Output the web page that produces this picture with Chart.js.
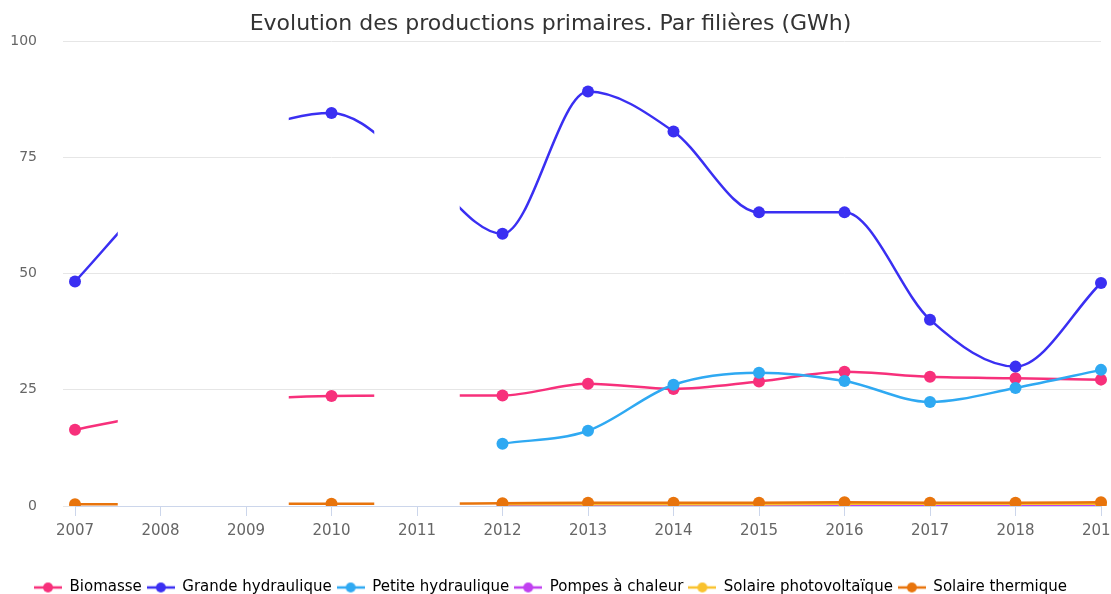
<!DOCTYPE html>
<html lang="fr">
<head>
<meta charset="utf-8">
<title>Evolution des productions primaires</title>
<script src="https://cdn.jsdelivr.net/npm/chart.js@4.4.1/dist/chart.umd.min.js"></script>
<style>
  html, body { margin: 0; padding: 0; background: #fff; }
  #wrap { width: 1111px; height: 594px; position: relative; }
</style>
</head>
<body>
<div id="wrap"><canvas id="prodChart"></canvas></div>
<script>
// productions primaires par filière, en GWh
const years = ['2007', '2008', '2009', '2010', '2011', '2012', '2013', '2014', '2015', '2016', '2017', '2018', '2019'];
// years blanked out on the plot: only the half-interval round the other years is drawn
const blankYears = ['2008', '2009', '2011'];

const biomasse         = [16.4, 20.0, 22.8, 23.7, 23.8, 23.8, 26.3, 25.2, 26.8, 28.9, 27.8, 27.5, 27.2];
const grandeHydro      = [48.3, 68.0, 80.0, 84.6, 73.0, 58.6, 89.2, 80.6, 63.2, 63.2, 40.1, 30.0, 48.0];
const petiteHydro      = [null, null, null, null, null, 13.4, 16.2, 26.1, 28.7, 26.9, 22.4, 25.4, 29.3];
const pompesChaleur    = [null, null, null, null, null, 0.2, 0.2, 0.2, 0.2, 0.2, 0.2, 0.2, 0.2];
const solairePV        = [null, null, null, null, null, 0.4, 0.4, 0.4, 0.4, 0.5, 0.5, 0.5, 0.5];
const solaireThermique = [0.4, 0.4, 0.5, 0.5, 0.5, 0.6, 0.7, 0.7, 0.7, 0.8, 0.7, 0.7, 0.8];

const yTicks = [0, 25, 50, 75, 100];

const series = [
  { label: 'Biomasse', data: biomasse, color: '#f7307b' },
  { label: 'Grande hydraulique', data: grandeHydro, color: '#3a2ff2' },
  { label: 'Petite hydraulique', data: petiteHydro, color: '#2fa9f2' },
  { label: 'Pompes à chaleur', data: pompesChaleur, color: '#c040f0' },
  { label: 'Solaire photovoltaïque', data: solairePV, color: '#f9c22e' },
  { label: 'Solaire thermique', data: solaireThermique, color: '#e8740c' }
];

// legend symbol: short line with a dot in the middle
function legendSymbol(color){
  const c = document.createElement('canvas');
  c.width = 28; c.height = 12;
  const g = c.getContext('2d');
  g.strokeStyle = color; g.lineWidth = 2.5;
  g.beginPath(); g.moveTo(0, 6); g.lineTo(28, 6); g.stroke();
  g.fillStyle = color;
  g.beginPath(); g.arc(14, 6, 5, 0, Math.PI * 2); g.fill();
  return c;
}
const symbols = series.map(s => legendSymbol(s.color));

// clip the lines to the bands round the years that are shown
const blankBands = {
  id: 'blankBands',
  beforeDatasetsDraw(chart){
    const x = chart.scales.x, area = chart.chartArea, ctx = chart.ctx;
    ctx.save();
    ctx.beginPath();
    years.forEach((y, i) => {
      if (blankYears.includes(y)) return;
      const l = x.getPixelForValue(i - 0.5), r = x.getPixelForValue(i + 0.5);
      ctx.rect(l, area.top - 10, r - l, area.bottom - area.top + 20);
    });
    ctx.clip();
  },
  afterDatasetsDraw(chart){
    chart.ctx.restore();
  }
};

const FONT = '"DejaVu Sans", Verdana, sans-serif';

new Chart(document.getElementById('prodChart').getContext('2d'), {
  type: 'line',
  data: {
    labels: years,
    datasets: series.map((s, i) => ({
      label: s.label,
      data: s.data,
      borderColor: s.color,
      backgroundColor: s.color,
      borderWidth: 2.5,
      pointRadius: 6,
      pointHoverRadius: 6,
      pointBorderWidth: 0,
      cubicInterpolationMode: 'monotone',
      spanGaps: false,
      order: series.length - i
    }))
  },
  options: {
    responsive: true,
    maintainAspectRatio: false,
    animation: false,
    layout: { padding: { left: 0, right: 10, top: 0, bottom: -11 } },
    plugins: {
      title: {
        display: true,
        text: 'Evolution des productions primaires. Par filières (GWh)',
        color: '#333',
        font: { family: FONT, size: 22, weight: 'normal' },
        padding: { top: 11, bottom: 4 }
      },
      legend: {
        position: 'bottom',
        labels: {
          usePointStyle: true,
          pointStyleWidth: 28,
          color: '#333',
          font: { family: FONT, size: 15 },
          padding: 5,
          generateLabels(chart){
            return chart.data.datasets.map((d, i) => ({
              text: d.label,
              pointStyle: symbols[i],
              fillStyle: d.borderColor,
              strokeStyle: d.borderColor,
              lineWidth: 0,
              hidden: !chart.isDatasetVisible(i),
              datasetIndex: i
            }));
          }
        }
      },
      tooltip: { enabled: false }
    },
    scales: {
      x: {
        offset: false,
        grid: { drawOnChartArea: false, drawTicks: true, tickLength: 10, color: '#ccd6eb' },
        border: { display: true, color: '#ccd6eb' },
        ticks: { color: '#666', font: { family: FONT, size: 15 }, maxRotation: 0, padding: 6, autoSkip: false },
        afterFit(scale){
          scale.paddingRight = 0;
          scale.paddingLeft = 0;
          scale.height += 29;
        }
      },
      y: {
        min: 0,
        max: 100,
        afterBuildTicks(scale){ scale.ticks = yTicks.map(v => ({ value: v })); },
        grid: { color: '#e6e6e6', drawTicks: true, tickLength: 12 },
        border: { display: false },
        ticks: { color: '#666', font: { family: FONT, size: 14 }, padding: 26 },
        afterFit(scale){ scale.width = 75; }
      }
    }
  },
  plugins: [blankBands]
});
</script>
</body>
</html>
